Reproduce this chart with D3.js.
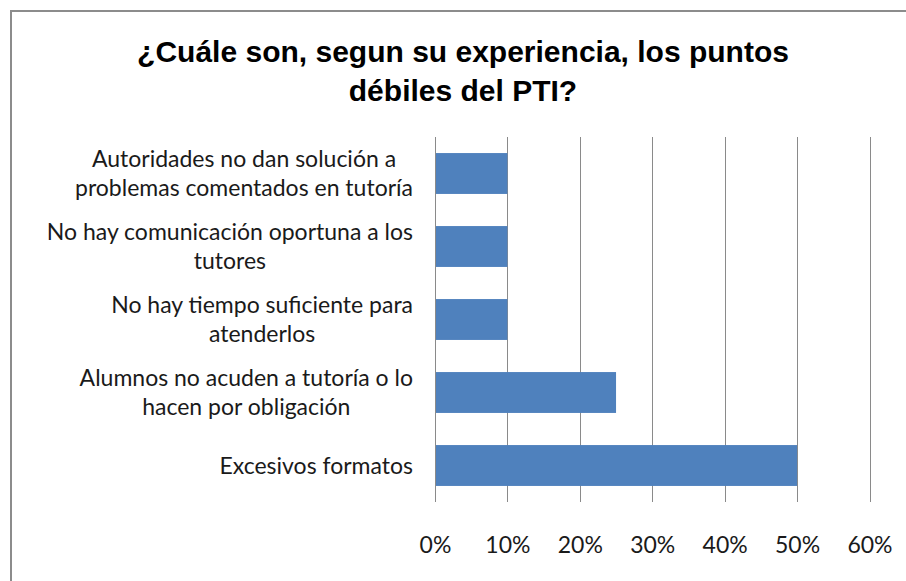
<!DOCTYPE html>
<html>
<head>
<meta charset="utf-8">
<script src="https://cdn.jsdelivr.net/npm/d3@7"></script>
<style>
  body { margin: 0; background: #fff; }
  svg { display: block; }
</style>
</head>
<body>
<script>
// data
const categories = [
  ['Autoridades no dan solución a', 'problemas comentados en tutoría'],
  ['No hay comunicación oportuna a los', 'tutores'],
  ['No hay tiempo suficiente para', 'atenderlos'],
  ['Alumnos no acuden a tutoría o lo', 'hacen por obligación'],
  ['Excesivos formatos']
]
const values = [0.10, 0.10, 0.10, 0.25, 0.50]
const ticks = [0, 0.1, 0.2, 0.3, 0.4, 0.5, 0.6]
const titleLines = ['¿Cuále son, segun su experiencia, los puntos', 'débiles del PTI?']

const width = 906
const height = 581

const svg = d3.select('body')
  .append('svg')
  .attr('width', width)
  .attr('height', height)

// chart frame
svg.append('rect')
  .attr('x', 11)
  .attr('y', 11)
  .attr('width', 920)
  .attr('height', 600)
  .attr('fill', '#fff')
  .attr('stroke', '#8c8c8c')
  .attr('stroke-width', 2)

svg.append('g')
  .selectAll('text')
  .data(titleLines)
  .enter()
  .append('text')
  .attr('x', 463)
  .attr('y', (d, i) => 62 + i * 39)
  .attr('text-anchor', 'middle')
  .style('font-family', '"Liberation Sans", Arial, sans-serif')
  .style('font-weight', 'bold')
  .style('font-size', '30px')
  .attr('fill', '#000')
  .text(d => d)

const x = d3.scaleLinear()
  .domain([0, 0.6])
  .range([435, 869.5])

const y = d3.scaleBand()
  .domain(d3.range(categories.length))
  .range([137, 502])
  .paddingInner(0.44)
  .paddingOuter(0.22)

// vertical gridlines
svg.append('g')
  .selectAll('line')
  .data(ticks)
  .enter()
  .append('line')
  .attr('x1', d => Math.round(x(d)) + 0.5)
  .attr('x2', d => Math.round(x(d)) + 0.5)
  .attr('y1', 137)
  .attr('y2', 502)
  .attr('stroke', '#8a8a8a')
  .attr('stroke-width', 1)

svg.append('g')
  .selectAll('rect')
  .data(values)
  .enter()
  .append('rect')
  .attr('x', x(0) + 1)
  .attr('y', (d, i) => y(i))
  .attr('width', d => x(d) - x(0) - 1)
  .attr('height', y.bandwidth())
  .attr('fill', '#4f81bd')

// x axis labels
const xAxis = d3.axisBottom(x)
  .tickValues(ticks)
  .tickFormat(d3.format('.0%'))
  .tickSize(0)
  .tickPadding(0)

const gx = svg.append('g')
  .attr('transform', 'translate(0,537)')
  .call(xAxis)
gx.select('.domain').remove()
gx.selectAll('text')
  .style('font-family', 'Lato, "Open Sans", sans-serif')
  .style('font-size', '23px')
  .attr('fill', '#1a1a1a')

// category labels: each block right aligned, lines centred inside it
const labelRight = 413
const lab = svg.append('g')
  .selectAll('text')
  .data(categories)
  .enter()
  .append('text')
  .style('font-family', 'Lato, "Open Sans", sans-serif')
  .style('font-size', '23px')
  .attr('fill', '#1a1a1a')
  .attr('text-anchor', 'middle')

lab.selectAll('tspan')
  .data((d, i) => d.map((t, j) => ({ t, j, n: d.length, i })))
  .enter()
  .append('tspan')
  .attr('y', d => y(d.i) + y.bandwidth() / 2 + (d.j - (d.n - 1) / 2) * 29)
  .attr('dy', '0.35em')
  .text(d => d.t)

lab.each(function () {
  const spans = d3.select(this).selectAll('tspan')
  let w = 0
  spans.each(function () { w = Math.max(w, this.getComputedTextLength()) })
  spans.attr('x', labelRight - w / 2)
})
</script>
</body>
</html>
